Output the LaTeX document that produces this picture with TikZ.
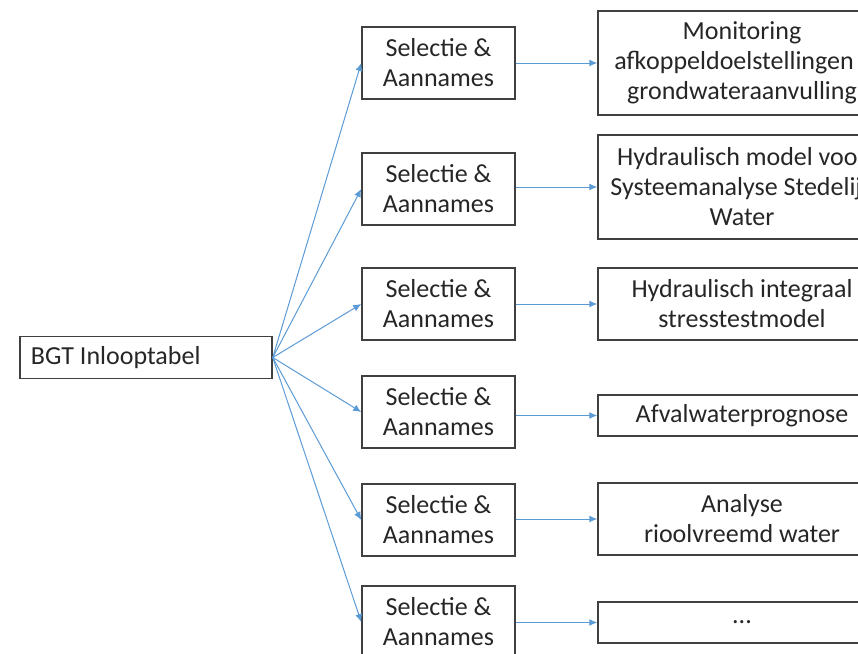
\documentclass[tikz,border=0pt]{standalone}
\usepackage{fontspec}
\setmainfont{Carlito}
\usepackage{tikz}
\usetikzlibrary{arrows.meta}

\definecolor{pijlblauw}{HTML}{5B9BD5}
\definecolor{randgrijs}{HTML}{404040}
\definecolor{tekstgrijs}{HTML}{262626}

\begin{document}
\begin{tikzpicture}[x=0.5pt, y=-0.5pt,
    doos/.style={draw=randgrijs, line width=0.75pt, align=center, inner sep=1pt,
        text=tekstgrijs, font=\fontsize{13}{15}\selectfont},
    keuze/.style={doos, minimum width=76.5pt, minimum height=36pt},
    doel/.style={doos, minimum width=144pt},
    pijl/.style={draw=pijlblauw, line width=0.5pt, -{Latex[length=4pt, width=3.5pt]}}]
    \useasboundingbox (0, 0) rectangle (858, 654);
    \node[doos, text width=115pt, inner xsep=5.5pt, align=flush left, minimum height=21pt] (bgt) at (146, 357.5) {BGT Inlooptabel};
    % de zes selectieblokken
    \foreach \i/\y in {1/63, 2/189, 3/304, 4/412, 5/520, 6/622}
        \node[keuze] (sel\i) at (438.5, \y) {Selectie \&\\Aannames};
    \node[doel, minimum height=52pt] (mon) at (742, 63) {Monitoring\\afkoppeldoelstellingen /\\grondwateraanvulling};
    \node[doel, minimum height=52pt] (sys) at (742, 187) {Hydraulisch model voor\\Systeemanalyse Stedelijk\\Water};
    \node[doel, minimum height=36pt] (str) at (742, 304) {Hydraulisch integraal\\stresstestmodel};
    \node[doel, minimum height=20.5pt] (afv) at (742, 415.5) {Afvalwaterprognose};
    \node[doel, minimum height=36pt] (rvw) at (742, 519) {Analyse\\rioolvreemd water};
    \node[doel, minimum height=20.5pt] (etc) at (742, 622.5) {...};
    \foreach \i in {1,...,6}
        \draw[pijl] (bgt.east) -- (sel\i.west);
    \foreach \i/\d in {1/mon, 2/sys, 3/str, 4/afv, 5/rvw, 6/etc}
        \draw[pijl] (sel\i.east |- \d.west) -- (\d.west);
\end{tikzpicture}
\end{document}
